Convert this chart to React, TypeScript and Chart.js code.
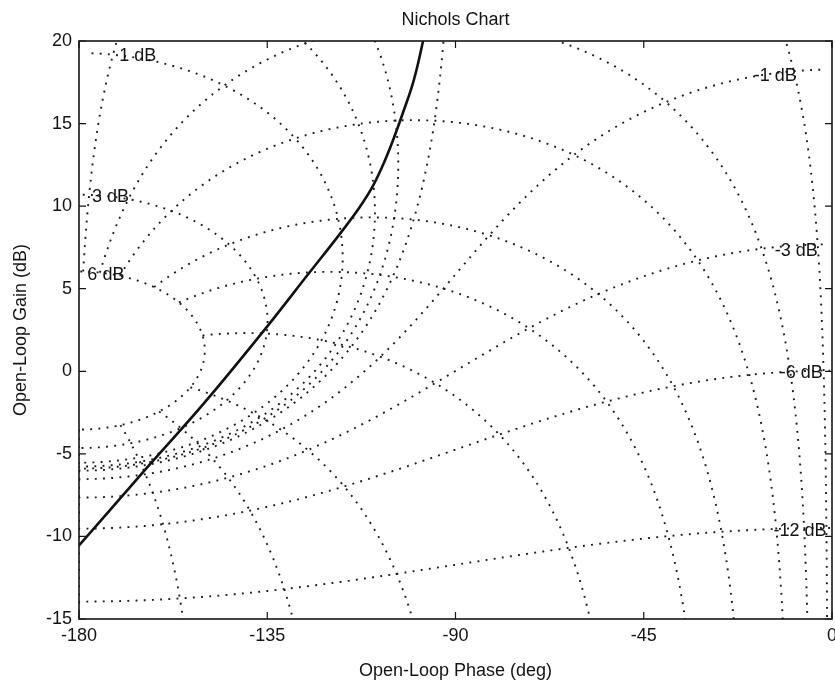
import React, { useEffect, useRef } from "react";
import { Chart, registerables } from "chart.js";

Chart.register(...registerables);

// Open-loop response: phase (deg) and gain (dB)
const olPhase = [-180, -165, -150, -135, -125, -118, -113, -110, -107.5, -105, -102.5, -100, -97.8, -97.4];
const olGain = [-10.55, -6.2, -1.9, 2.72, 5.95, 8.2, 9.9, 11.1, 12.4, 13.95, 15.7, 17.6, 19.96, 20.5];

// Nichols grid contour values: closed-loop gain (dB) and closed-loop phase (deg)
const gridGainsDb = [6, 3, 1, 0.5, 0.25, 0, -1, -3, -6, -12, -20, -40];
const gridPhasesDeg = [-1, -5, -10, -20, -30, -50, -90, -120, -150, -180];

// Axis ticks
const xTicks = [-180, -135, -90, -45, 0];
const yTicks = [-15, -10, -5, 0, 5, 10, 15, 20];

// Grid contour labels (text and anchor in data coordinates)
const gridLabelText = ["1 dB", "3 dB", "6 dB", "-1 dB", "-3 dB", "-6 dB", "-12 dB"];
const gridLabelPhase = [-170.4, -176.9, -178.0, -8.4, -3.4, -2.2, -1.3];
const gridLabelGain = [19.1, 10.55, 5.8, 17.9, 7.3, -0.1, -9.7];

const titleText = "Nichols Chart";
const xTitle = "Open-Loop Phase (deg)";
const yTitle = "Open-Loop Gain (dB)";

// Map a closed-loop point T = m e^{j psi} to the open-loop Nichols plane (G = T / (1 - T))
function toNichols(m: number, psiDeg: number) {
  const psi = (psiDeg * Math.PI) / 180;
  const re = 1 - m * Math.cos(psi);
  const im = -m * Math.sin(psi);
  const arg = Math.atan2(im, re);
  const x = psiDeg - (arg * 180) / Math.PI;
  const y = 20 * Math.log10(m / Math.hypot(re, im));
  return { x, y: Math.abs(y) > 60 ? null : y };
}

function gainContour(gDb: number) {
  const m = Math.pow(10, gDb / 20);
  const pts: { x: number; y: number | null }[] = [];
  for (let psi = -359.75; psi <= -0.25; psi += 0.25) pts.push(toNichols(m, psi));
  return pts;
}

function phaseContour(psiDeg: number) {
  const pts: { x: number; y: number | null }[] = [];
  let mdb = gridGainsDb[0];
  while (mdb >= -60) {
    pts.push(toNichols(Math.pow(10, mdb / 20), psiDeg));
    mdb -= Math.abs(mdb) < 3 ? 0.005 : 0.05;
  }
  return pts;
}

const FONT = '18px "Liberation Sans", Arial, Helvetica, sans-serif';
const INK = "#141414";

const decor = {
  id: "decor",
  afterDraw(chart: any) {
    const { ctx, chartArea: a, scales } = chart;
    const xs = scales.x;
    const ys = scales.y;
    ctx.save();
    ctx.strokeStyle = INK;
    ctx.lineWidth = 1.6;
    ctx.strokeRect(a.left, a.top, a.right - a.left, a.bottom - a.top);
    ctx.lineWidth = 1.2;
    ctx.beginPath();
    xTicks.forEach((v) => {
      const px = xs.getPixelForValue(v);
      ctx.moveTo(px, a.bottom);
      ctx.lineTo(px, a.bottom - 7);
      ctx.moveTo(px, a.top);
      ctx.lineTo(px, a.top + 7);
    });
    yTicks.forEach((v) => {
      const py = ys.getPixelForValue(v);
      ctx.moveTo(a.left, py);
      ctx.lineTo(a.left + 7, py);
      ctx.moveTo(a.right, py);
      ctx.lineTo(a.right - 7, py);
    });
    ctx.stroke();

    ctx.fillStyle = INK;
    ctx.font = FONT;
    ctx.textBaseline = "middle";
    ctx.textAlign = "center";
    xTicks.forEach((v) => {
      ctx.fillText(String(v), xs.getPixelForValue(v), a.bottom + 17);
    });
    ctx.textAlign = "right";
    yTicks.forEach((v) => {
      ctx.fillText(String(v), a.left - 7, ys.getPixelForValue(v));
    });

    ctx.textAlign = "center";
    ctx.fillText(titleText, (a.left + a.right) / 2, 20);
    ctx.fillText(xTitle, (a.left + a.right) / 2, 671);
    ctx.save();
    ctx.translate(21, (a.top + a.bottom) / 2);
    ctx.rotate(-Math.PI / 2);
    ctx.fillText(yTitle, 0, 0);
    ctx.restore();

    gridLabelText.forEach((t, i) => {
      ctx.textAlign = t.startsWith("-") ? "right" : "left";
      ctx.fillText(t, xs.getPixelForValue(gridLabelPhase[i]), ys.getPixelForValue(gridLabelGain[i]));
    });
    ctx.restore();
  },
};

export default function App() {
  const ref = useRef<HTMLCanvasElement | null>(null);
  useEffect(() => {
    if (!ref.current) return;
    const dotted = {
      showLine: true,
      pointRadius: 0,
      borderColor: "#1c1c1c",
      borderWidth: 1.9,
      borderDash: [1.9, 6.3],
      spanGaps: false,
      clip: 0,
    };
    const datasets: any[] = [];
    gridGainsDb.forEach((g) => datasets.push({ ...dotted, label: `M ${g} dB`, data: gainContour(g) }));
    gridPhasesDeg.forEach((p) => datasets.push({ ...dotted, label: `N ${p} deg`, data: phaseContour(p) }));
    datasets.push({
      label: "Open loop",
      data: olPhase.map((x, i) => ({ x, y: olGain[i] })),
      showLine: true,
      pointRadius: 0,
      borderColor: "#111",
      borderWidth: 2.6,
      cubicInterpolationMode: "monotone",
      clip: 0,
    });
    const chart = new Chart(ref.current, {
      type: "scatter",
      data: { datasets },
      options: {
        responsive: false,
        animation: false,
        events: [],
        layout: { padding: { left: 79, right: 3, top: 41, bottom: 65 } },
        plugins: { legend: { display: false }, tooltip: { enabled: false }, title: { display: false } },
        scales: {
          x: { type: "linear", min: -180, max: 0, display: false },
          y: { type: "linear", min: -15, max: 20, display: false },
        },
      },
      plugins: [decor],
    });
    return () => chart.destroy();
  }, []);
  return (
    <div style={{ position: "absolute", left: 0, top: 0, width: 835, height: 684, background: "#fff" }}>
      <canvas ref={ref} width={835} height={684} style={{ display: "block" }} />
    </div>
  );
}
